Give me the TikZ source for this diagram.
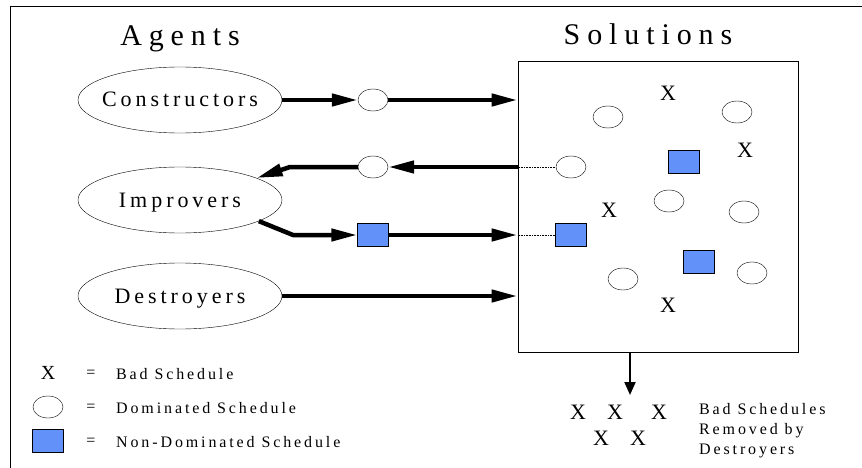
\documentclass[tikz,border=0pt]{standalone}
\usepackage{fontspec}
\setmainfont{Liberation Serif}
\newfontfamily\titlefont[LetterSpace=23]{Liberation Serif}
\newfontfamily\spacedfont[LetterSpace=18]{Liberation Serif}
\usetikzlibrary{shapes.geometric,arrows.meta,positioning}
\definecolor{nondom}{RGB}{98,145,250}

\tikzset{
  agent/.style={ellipse, draw, minimum width=204pt, minimum height=66pt, inner ysep=0pt, inner xsep=-30pt,
    text height=14pt, text depth=0pt, font=\spacedfont\fontsize{22}{22}\selectfont},
  dom/.style={ellipse, draw, minimum width=30pt, minimum height=22pt, inner sep=0pt},
  nondomsq/.style={rectangle, draw, fill=nondom, minimum width=31pt, minimum height=23pt, inner sep=0pt},
  bad/.style={inner sep=0pt, font=\fontsize{22}{22}\selectfont},
  flow/.style={line width=4.5pt, -{Triangle[length=26pt,width=12pt]}},
  tie/.style={densely dotted, line width=0.6pt},
  legend/.style={inner sep=0pt, anchor=base west, font=\spacedfont\fontsize{16}{20}\selectfont},
}

\begin{document}
\begin{tikzpicture}[x=1pt, y=-1pt]
    \useasboundingbox (0,0) rectangle (862,468);
    \draw[line width=0.8pt] (862,6) -- (10,6) -- (10,468);

    %% Titles
    \node[anchor=base, font=\titlefont\fontsize{30}{30}\selectfont] (agt) at (180,46) {Agents};
    \node[anchor=base, font=\titlefont\fontsize{30}{30}\selectfont] (slt) at (648,45) {Solutions};

    %% Agents
    \node[agent] (con) at (180,100) {Constructors};
    \node[agent] (imp) at (180,200) {Improvers};
    \node[agent] (des) at (180,296) {Destroyers};

    %% Solution pool
    \node[draw, line width=1pt, minimum width=280pt, minimum height=290pt] (sol) at (658,207) {};

    %% schedules in transit
    \node[dom] (d1) at (373,100) {};
    \node[dom] (d2) at (373,167) {};
    \node[nondomsq] (s1) at (373,235) {};
    \coordinate (bend2) at (290,167);
    \coordinate (bend3) at (293,235);

    %% schedules inside the pool
    \node[dom] (in1) at (571,167) {};
    \node[nondomsq] (in2) at (571,235) {};
    \node[dom] (p1) at (608,117) {};
    \node[dom] (p2) at (737,112) {};
    \node[dom] (p3) at (669,201) {};
    \node[dom] (p4) at (744,212) {};
    \node[dom] (p5) at (623,279) {};
    \node[dom] (p6) at (752,273) {};
    \node[nondomsq] (q1) at (684,162) {};
    \node[nondomsq] (q2) at (699,262) {};
    \node[bad] (b1) at (668,93) {X};
    \node[bad] (b2) at (745,150) {X};
    \node[bad] (b3) at (609,210) {X};
    \node[bad] (b4) at (668,305) {X};

    %% Flows
    \draw[flow] (con) -- (d1);
    \draw[flow] (d1) -- (d1 -| sol.west);
    \draw[flow] (sol.west |- in1) -- (d2);
    \draw[flow] (d2) -- (bend2) -- (imp.16);
    \draw[flow] (imp.-15) -- (bend3) -- (s1);
    \draw[flow] (s1) -- (s1 -| sol.west);
    \draw[flow] (des) -- (des -| sol.west);
    \draw[tie] (sol.west |- in1) -- (in1);
    \draw[tie] (sol.west |- in2) -- (in2);

    %% removed schedules
    \coordinate (drop) at (630,395);
    \draw[line width=2pt, -{Triangle[length=13pt,width=11pt]}] (drop |- sol.south) -- (drop);
    \node[bad] (r1) at (578,412) {X};
    \node[bad] (r2) at (615,412) {X};
    \node[bad] (r3) at (659,412) {X};
    \node[bad] (r4) at (601,438) {X};
    \node[bad] (r5) at (638,438) {X};
    \node[legend, anchor=north west, align=left] (gone) at (699,403) {Bad Schedules\\Removed by\\Destroyers};

    %% Legend
    \node[bad, font=\fontsize{20}{20}\selectfont] (keyx) at (48,373) {X};
    \node[dom] (keyd) at (48,407) {};
    \node[nondomsq] (keys) at (48,441) {};
    \node[legend, anchor=center] (eq1) at (91,374) {=};
    \node[legend, anchor=center] (eq2) at (91,408) {=};
    \node[legend, anchor=center] (eq3) at (91,442) {=};
    \node[legend] (keyxt) at (116,379) {Bad Schedule};
    \node[legend] (keydt) at (116,413) {Dominated Schedule};
    \node[legend] (keyst) at (116,447) {Non-Dominated Schedule};
\end{tikzpicture}
\end{document}
